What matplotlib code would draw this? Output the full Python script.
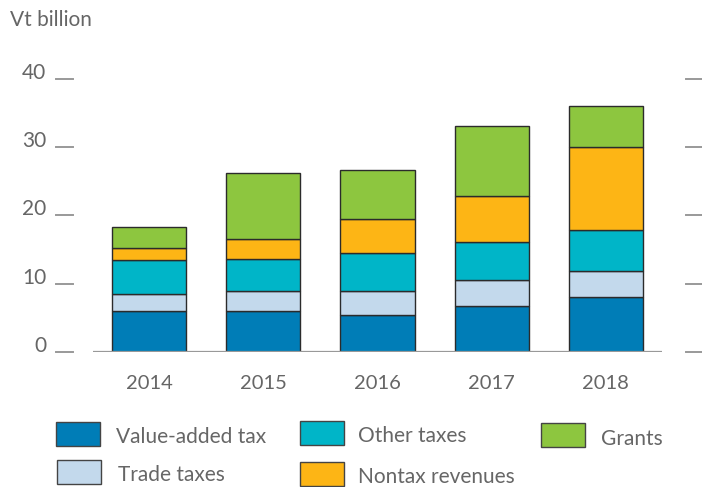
import numpy as np
import matplotlib.pyplot as plt
from matplotlib.patches import Rectangle
from matplotlib.transforms import blended_transform_factory

plt.rcParams['font.family'] = ['Lato', 'DejaVu Sans']

years = ['2014', '2015', '2016', '2017', '2018']
vat = [5.9, 5.9, 5.4, 6.7, 8.0]
trade = [2.5, 3.0, 3.45, 3.85, 3.8]
other = [5.1, 4.65, 5.6, 5.5, 6.0]
nontax = [1.7, 3.0, 5.0, 6.8, 12.3]
grants = [3.05, 9.7, 7.25, 10.25, 6.0]

series = [vat, trade, other, nontax, grants]
names = ['Value-added tax', 'Trade taxes', 'Other taxes', 'Nontax revenues', 'Grants']
colors = ['#007DB7', '#C3D9EC', '#00B5C8', '#FDB515', '#8DC63F']
yticks = [0, 10, 20, 30, 40]

TXT = '#666666'

fig = plt.figure(figsize=(7.02, 4.87), dpi=100)
ax = fig.add_axes([0.1329, 0.278, 0.8097, 0.5594])

x = np.arange(len(years))
bottom = np.zeros(len(years))
for vals, c in zip(series, colors):
    ax.bar(x, vals, 0.65, bottom=bottom, color=c, edgecolor='#2b2b2b', linewidth=1.0, zorder=2)
    bottom += np.array(vals)

ax.set_xlim(-0.49, 4.49)
ax.set_ylim(0, 40)
for s in ax.spines.values():
    s.set_visible(False)
ax.axhline(0, color='#999999', lw=1.6, zorder=3)

ax.set_xticks(x)
ax.set_xticklabels(years)
ax.tick_params(axis='x', length=0, pad=17, labelsize=14.5, labelcolor=TXT)
ax.set_yticks(yticks)
ax.set_yticklabels([str(v) for v in yticks])
ax.tick_params(axis='y', length=0, pad=34, labelsize=15, labelcolor=TXT)
for lab in ax.get_yticklabels():
    lab.set_va('baseline')

# dashes at the ticks, both sides
tr = blended_transform_factory(ax.transAxes, ax.transData)
for v in yticks:
    ax.plot([-0.0656, -0.0362], [v, v], color='#999999', lw=1.4, transform=tr, clip_on=False)
    ax.plot([1.0427, 1.075], [v, v], color='#999999', lw=1.4, transform=tr, clip_on=False)

fig.text(10 / 702, 1 - 20 / 487, 'Vt billion', fontsize=15, color=TXT, ha='left', va='center')

# legend, placed by hand (px from top-left)
W, H = 702.0, 487.0
leg = [
    (0, 56, 422, 116, 437),
    (1, 57, 460, 118, 475),
    (2, 300, 421, 358, 436),
    (3, 300, 462, 358, 477),
    (4, 541, 423, 601, 439),
]
for i, bx, by, tx, ty in leg:
    fig.patches.append(Rectangle((bx / W, 1 - (by + 24) / H), 44 / W, 24 / H,
                                 transform=fig.transFigure, facecolor=colors[i],
                                 edgecolor='#444444', lw=1.0))
    fig.text(tx / W, 1 - ty / H, names[i], fontsize=15, color=TXT, ha='left', va='center')

fig.savefig('out.png', dpi=100)
